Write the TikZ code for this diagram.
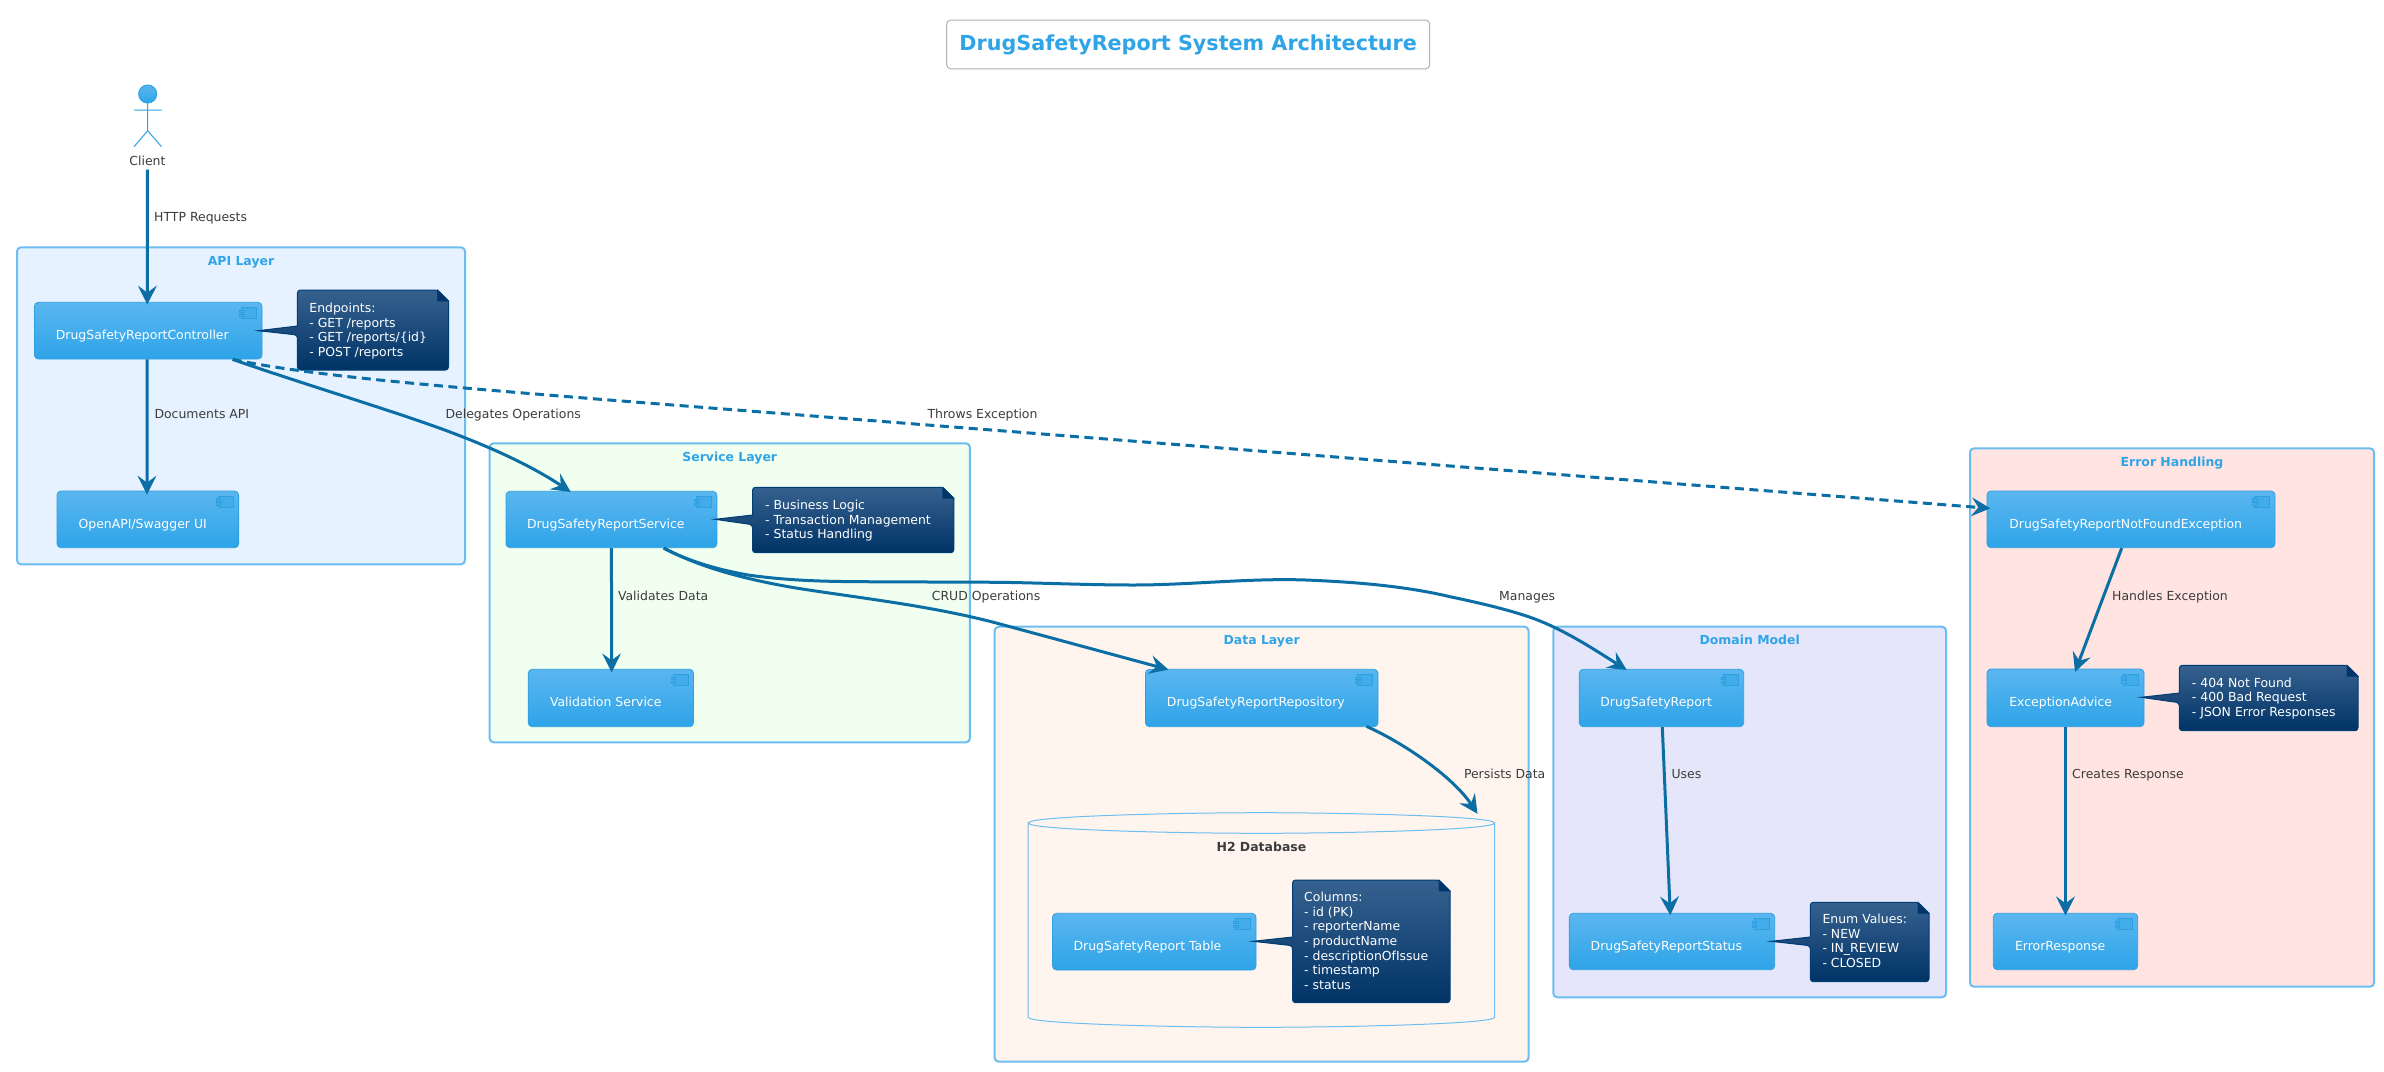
\documentclass[tikz,border=0pt]{standalone}
\usepackage{fontspec}
\setmainfont{DejaVu Sans}
\usetikzlibrary{arrows.meta}
\definecolor{lineblue}{HTML}{0B6FA6}
\definecolor{titleblue}{HTML}{2FA4E7}
\definecolor{grpline}{HTML}{6CBDF0}
\definecolor{labelgrey}{HTML}{3C3C3C}
\definecolor{compborder}{HTML}{2E9FDF}
\definecolor{comptop}{HTML}{5AB6F0}
\definecolor{compbot}{HTML}{2EA4E8}
\definecolor{iconfill}{HTML}{42ACEB}
\definecolor{notetop}{HTML}{36618F}
\definecolor{notebot}{HTML}{003366}
\definecolor{noteline}{HTML}{003D75}
\definecolor{fillapi}{HTML}{E6F2FF}
\definecolor{fillsvc}{HTML}{F0FFF0}
\definecolor{filldata}{HTML}{FFF5EE}
\definecolor{filldom}{HTML}{E6E6FA}
\definecolor{fillerr}{HTML}{FFE4E1}
\tikzset{
  grp/.style={draw=grpline,line width=2pt,rounded corners=4pt,inner sep=0pt,text=titleblue,
    font=\fontsize{12.45}{14.6}\selectfont\bfseries,text height=18pt},
  compbox/.style={draw=compborder,line width=0.8pt,rounded corners=4pt,inner sep=0pt,top color=comptop,bottom color=compbot,
    text=white,font=\fontsize{12.45}{14.6}\selectfont},
  iconpart/.style={fill=iconfill,draw=compborder,line width=0.8pt},
  notebody/.style={top color=notetop,bottom color=notebot,draw=noteline,line width=1pt},
  notefold/.style={fill=notebot,draw=noteline,line width=0.8pt},
  notetext/.style={anchor=north west,inner sep=0pt,align=left,text=white,font=\fontsize{12.45}{14.6}\selectfont},
  lbl/.style={anchor=base west,inner sep=0pt,text=labelgrey,font=\fontsize{12.45}{14.6}\selectfont},
  conn/.style={draw=lineblue,line width=3pt,-{Stealth[length=19pt,width=19pt,inset=7pt,line width=0pt]}},
  dashconn/.style={conn,dash pattern=on 9pt off 5.5pt},
  actorline/.style={draw=titleblue,line width=1pt},
}
% name, x1, y1, x2, y2, fill, title
\newcommand\grpnode[7]{%
  \pgfmathsetmacro\mW{#4-#2}\pgfmathsetmacro\mD{#5-#3-18}%
  \pgfmathsetmacro\mX{(#2+#4)/2}\pgfmathsetmacro\mY{(#3+#5)/2}%
  \node[grp,fill=#6,minimum width=\mW pt,text depth=\mD pt] (#1) at (\mX,\mY) {#7};}
% name, x1, y1, x2, y2, text x, text centre y, text
\newcommand\comp[8]{%
  \pgfmathsetmacro\mW{#4-#2}\pgfmathsetmacro\mL{#6-#2}%
  \pgfmathsetmacro\mH{#7+3.5-#3}\pgfmathsetmacro\mD{#5-#7-3.5}%
  \pgfmathsetmacro\mX{(#2+#4)/2}\pgfmathsetmacro\mY{(#3+#5)/2}%
  \node[compbox,minimum width=\mW pt,text height=\mH pt,text depth=\mD pt] (#1) at (\mX,\mY)
    {\makebox[\mW pt][l]{\hspace{\mL pt}#8}};
  \pgfmathsetmacro\iA{#4-20.5}\pgfmathsetmacro\iB{#4-5.5}%
  \pgfmathsetmacro\iC{#3+5.5}\pgfmathsetmacro\iD{#3+16.5}%
  \pgfmathsetmacro\tA{#4-22.5}\pgfmathsetmacro\tB{#4-18}%
  \path[iconpart] (\iA,\iC) rectangle (\iB,\iD);
  \path[iconpart] (\tA,\iC+2.2) rectangle (\tB,\iC+4.6);
  \path[iconpart] (\tA,\iC+6.2) rectangle (\tB,\iC+8.6);}
% x1,y1,x2,y2,tipx,tipy,basey1,basey2
\newcommand\notebg[8]{%
  \pgfmathsetmacro\fX{#3-11}\pgfmathsetmacro\fY{#2+11}\pgfmathsetmacro\fZ{#2+13}%
  \path[notebody,rounded corners=3pt] (#1,#7) -- (#1,#2) -- (\fX,#2) [sharp corners] -- (#3,\fY) -- (#3,\fZ) [rounded corners=3pt] -- (#3,#4) -- (#1,#4) -- (#1,#8) [sharp corners] -- (#5,#6) -- cycle;
  \path[notefold] (\fX,#2) -- (\fX,\fY) -- (#3,\fY) -- cycle;}
\newcommand\ntop{\rule{0pt}{10pt}}
\begin{document}
\begin{tikzpicture}[x=1pt,y=-1pt]
\useasboundingbox (0,0) rectangle (2384,1071);
\fill[white] (0,0) rectangle (2384,1071);
% title
\node[draw=gray!60,line width=1pt,rounded corners=4pt,fill=white,text=titleblue,minimum width=483pt,minimum height=48.7pt,inner sep=0pt,font=\fontsize{20.7}{25}\selectfont\bfseries] (title) at (1188.2,44.4) {DrugSafetyReport System Architecture};
% actor
\path[actorline,top color=comptop,bottom color=compbot] (147.7,94) circle[radius=9pt];
\draw[actorline] (147.7,103) -- (147.7,130.7) (134,110) -- (161.5,110) (134,146.7) -- (147.7,130.7) -- (161.5,146.7);
\node[lbl,anchor=center] (client) at (147.5,160.7) {Client};
% groups
\grpnode{api}{17}{247.3}{465}{564.3}{fillapi}{API Layer}
\grpnode{svcl}{489.6}{443.3}{969.9}{742.3}{fillsvc}{Service Layer}
\grpnode{datal}{994.7}{626.7}{1528.5}{1061.7}{filldata}{Data Layer}
\grpnode{doml}{1553.3}{626.7}{1946}{997.3}{filldom}{Domain Model}
\grpnode{errl}{1970}{448.3}{2374}{986.7}{fillerr}{Error Handling}
% cylinder
\draw[draw=grpline,line width=1pt] (1028.2,823) .. controls (1028.2,816) and (1180,812.7) .. (1261.4,812.7) .. controls (1343,812.7) and (1494.6,816) .. (1494.6,823) .. controls (1494.6,830) and (1343,833.3) .. (1261.4,833.3) .. controls (1180,833.3) and (1028.2,830) .. (1028.2,823) -- (1028.2,1017.3) .. controls (1028.2,1024) and (1180,1027.3) .. (1261.4,1027.3) .. controls (1343,1027.3) and (1494.6,1024) .. (1494.6,1017.3) -- (1494.6,823);
\node[inner sep=0pt,minimum width=466.4pt,text=labelgrey,font=\fontsize{12.45}{14.6}\selectfont\bfseries,text height=38.8pt,text depth=175.8pt] (db) at (1261.4,920) {H2 Database};
% components
\comp{ctrl}{34.4}{302.3}{262}{359}{55.9}{335.7}{DrugSafetyReportController}
\comp{swag}{57}{491}{238.6}{547.7}{78.6}{525.3}{OpenAPI/Swagger UI}
\comp{svc}{506}{491.3}{716.9}{547.7}{527}{525}{DrugSafetyReportService}
\comp{val}{528.2}{669.3}{693.5}{726.7}{550}{703.3}{Validation Service}
\comp{repo}{1145.4}{669.3}{1378}{726.7}{1166.9}{703.3}{DrugSafetyReportRepository}
\comp{tbl}{1052.5}{913.3}{1256}{970}{1073.6}{946.7}{DrugSafetyReport Table}
\comp{rep}{1579.3}{669.3}{1743.7}{726.7}{1600.3}{703.3}{DrugSafetyReport}
\comp{stat}{1569.3}{913.3}{1774.7}{969.7}{1590.7}{946.7}{DrugSafetyReportStatus}
\comp{exc}{1987}{491}{2275}{547.7}{2009.3}{525}{DrugSafetyReportNotFoundException}
\comp{adv}{1987}{669}{2144}{726.7}{2009.3}{703.3}{ExceptionAdvice}
\comp{resp}{1993.3}{913.3}{2137.7}{969.7}{2015}{946.7}{ErrorResponse}
% notes
\notebg{297.4}{290}{448.5}{370}{258.3}{330.7}{326}{335}
\node[notetext] (n1) at (309.2,302.2) {\ntop Endpoints:\\- GET /reports\\- GET /reports/\{id\}\\- POST /reports};
\notebg{752.5}{487.3}{953.8}{552.7}{715}{519.3}{515}{524.7}
\node[notetext] (n2) at (765,499.2) {\ntop - Business Logic\\- Transaction Management\\- Status Handling};
\notebg{1292.5}{880}{1450}{1002.7}{1252.9}{941.3}{937}{945.7}
\node[notetext] (n3) at (1304,891.5) {\ntop Columns:\\- id (PK)\\- reporterName\\- productName\\- descriptionOfIssue\\- timestamp\\- status};
\notebg{1810.3}{902.3}{1929}{981.7}{1771}{941.3}{937}{945.7}
\node[notetext] (n4) at (1822.3,913.2) {\ntop Enum Values:\\- NEW\\- IN\_REVIEW\\- CLOSED};
\notebg{2179.3}{665.3}{2358}{730.7}{2141}{697.3}{693}{702.7}
\node[notetext] (n5) at (2191.7,676.8) {\ntop - 404 Not Found\\- 400 Bad Request\\- JSON Error Responses};
% connectors
\draw[conn] ([yshift=-4pt]client.south) -- ([xshift=-0.9pt,yshift=-2.7pt]ctrl.north);
\draw[conn] ([xshift=-1pt]ctrl.south) -- ([xshift=-0.8pt,yshift=-4pt]swag.north);
\draw[conn] ([xshift=84.5pt]ctrl.south) .. controls (300,383) and (400,413) .. (450,432) .. controls (490,447) and (530,465) .. ([xshift=-40.75pt,yshift=-1pt]svc.north);
\draw[dashconn] ([xshift=84.5pt]ctrl.south) .. controls (310,376) and (450,387) .. (600,399.3) -- ([xshift=3.7pt,yshift=11pt]exc.west);
\draw[conn] (svc.south) -- ([xshift=0.75pt,yshift=-3.4pt]val.north);
\draw[conn] ([xshift=52.25pt]svc.south) .. controls (700,567) and (740,578) .. (790,587) .. controls (850,597) and (930,605) .. (1000,624) -- ([xshift=-93.3pt,yshift=-0.7pt]repo.north);
\draw[conn] ([xshift=52.25pt]svc.south) .. controls (690,562) and (720,570) .. (748,575) .. controls (790,581) and (830,581.5) .. (862,581.7) .. controls (910,582) and (950,582) .. (1000,582.3) .. controls (1045,583) and (1090,585) .. (1134,585) .. controls (1190,585) and (1250,578) .. (1306,580) .. controls (1355,582) and (1405,586) .. (1450,596.7) .. controls (1480,603) and (1510,610) .. (1533,618.3) .. controls (1565,630) and (1595,650) .. ([xshift=-34.8pt,yshift=-1pt]rep.north);
\draw[conn] ([xshift=104.9pt,yshift=0.7pt]repo.south) .. controls (1410,746) and (1455,780) .. ([xshift=216.1pt,yshift=-1.3pt]db.north);
\draw[conn] ([xshift=0.8pt]rep.south) -- ([xshift=-1.7pt,yshift=-2.4pt]stat.north);
\draw[conn] ([xshift=-9.3pt]exc.south) -- ([xshift=9.5pt,yshift=-3.3pt]adv.north);
\draw[conn] (adv.south) -- ([yshift=-2.4pt]resp.north);
% labels
\node[lbl] (l1) at (154,221.5) {HTTP Requests};
\node[lbl] (l2) at (154.3,418.2) {Documents API};
\node[lbl] (l3) at (445.4,418.2) {Delegates Operations};
\node[lbl] (l4) at (927.4,418.2) {Throws Exception};
\node[lbl] (l5) at (617.8,600.5) {Validates Data};
\node[lbl] (l6) at (931.6,600.5) {CRUD Operations};
\node[lbl] (l7) at (1499,600.5) {Manages};
\node[lbl] (l8) at (1463.8,778.5) {Persists Data};
\node[lbl] (l9) at (1671.3,778.5) {Uses};
\node[lbl] (l10) at (2112,600.5) {Handles Exception};
\node[lbl] (l11) at (2072,778.5) {Creates Response};
\end{tikzpicture}
\end{document}
